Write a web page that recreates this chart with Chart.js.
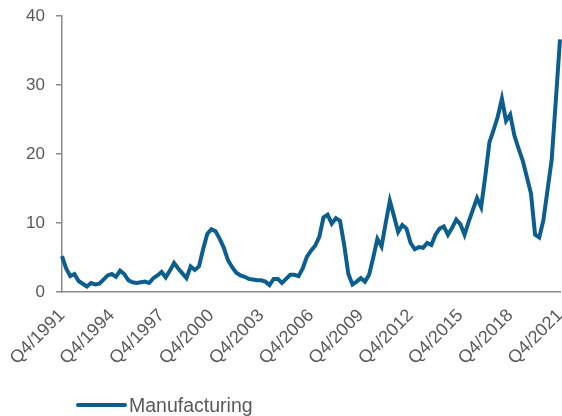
<!DOCTYPE html>
<html>
<head>
<meta charset="utf-8">
<script src="https://cdn.jsdelivr.net/npm/chart.js"></script>
<style>
  html, body { margin: 0; padding: 0; background: #fff; }
  #wrap { position: relative; width: 562px; height: 416px; }
  #legend { position: absolute; left: 76px; top: 393px; font-family: 'Liberation Sans', Arial, sans-serif;
            font-size: 19.5px; color: #595959; display: flex; align-items: center; height: 24px; }
  #legend .swatch { display: inline-block; width: 51px; height: 4px; border-radius: 2px; margin-right: 2px; }
</style>
</head>
<body>
<div id="wrap">
  <canvas id="myChart" width="562" height="416"></canvas>
  <div id="legend"></div>
</div>
<script>
'use strict';

// quarterly series, Q4/1991 .. Q4/2021
var firstYear = 1991;
var lastYear = 2021;
var seriesName = 'Manufacturing';
var manufacturing = [
  5.2, 3.4, 2.3, 2.6, 1.6, 1.2, 0.8, 1.3, 1.1, 1.2,
  1.8, 2.4, 2.6, 2.2, 3.1, 2.6, 1.7, 1.4, 1.3, 1.4,
  1.5, 1.3, 2.0, 2.4, 2.9, 2.1, 3.1, 4.2, 3.4, 2.7,
  2.0, 3.7, 3.2, 3.7, 6.2, 8.4, 9.1, 8.8, 7.7, 6.4,
  4.6, 3.6, 2.8, 2.4, 2.2, 1.9, 1.8, 1.7, 1.7, 1.5,
  1.0, 1.9, 1.9, 1.3, 1.9, 2.5, 2.5, 2.3, 3.4, 5.1,
  6.0, 6.7, 8.0, 10.8, 11.2, 9.9, 10.7, 10.3, 6.8, 2.6,
  1.1, 1.5, 2.0, 1.5, 2.5, 5.0, 7.7, 6.6, 10.0, 13.2,
  11.0, 8.7, 9.7, 9.2, 7.1, 6.2, 6.5, 6.4, 7.1, 6.8,
  8.3, 9.2, 9.5, 8.3, 9.3, 10.5, 9.8, 8.3, 10.2, 11.9,
  13.6, 12.3, 16.8, 21.7, 23.5, 25.4, 28.0, 24.8, 25.7, 22.7,
  20.8, 19.1, 16.7, 14.3, 8.3, 7.9, 10.4, 14.8, 19.2, 27.8,
  36.6
];
var tickLabels = ['Q4/1991', 'Q4/1994', 'Q4/1997', 'Q4/2000', 'Q4/2003', 'Q4/2006',
  'Q4/2009', 'Q4/2012', 'Q4/2015', 'Q4/2018', 'Q4/2021'];
var yTicks = [0, 10, 20, 30, 40];

var lineColor = '#0b5e8e';
var textColor = '#595959';
var axisColor = '#8a8a8a';

// category labels Q4/1991, Q1/1992 ...
var categories = [];
for (var y = firstYear; y <= lastYear; y++) {
  for (var q = 1; q <= 4; q++) {
    if (y === firstYear && q < 4) continue;
    categories.push('Q' + q + '/' + y);
  }
}
categories = categories.slice(0, manufacturing.length);

// no extra room for labels at the ends of the axes, layout padding does it
function noPadding(scale) {
  scale.paddingLeft = 0;
  scale.paddingRight = 0;
  scale.paddingTop = 0;
  scale.paddingBottom = 0;
}

var ctx = document.getElementById('myChart');
var myChart = new Chart(ctx, {
  type: 'line',
  data: {
    labels: categories,
    datasets: [{
      label: seriesName,
      data: manufacturing,
      borderColor: lineColor,
      borderWidth: 4,
      pointRadius: 0,
      tension: 0,
      clip: false
    }]
  },
  options: {
    responsive: false,
    animation: false,
    layout: { padding: { top: 16, right: 2, left: 0, bottom: 34 } },
    plugins: { legend: { display: false }, tooltip: { enabled: false } },
    scales: {
      x: {
        offset: false,
        border: { color: axisColor, width: 1.5 },
        grid: { drawOnChartArea: false, drawTicks: false },
        ticks: {
          autoSkip: false,
          maxRotation: 45,
          minRotation: 45,
          padding: 13,
          color: textColor,
          font: { family: "'Liberation Sans', Arial, sans-serif", size: 18 },
          callback: function (val, idx) {
            var lab = this.getLabelForValue(val);
            return tickLabels.indexOf(lab) >= 0 ? lab : null;
          }
        },
        afterFit: function (scale) { scale.height = 90; noPadding(scale); }
      },
      y: {
        min: 0,
        max: 40,
        border: { color: axisColor, width: 1.5 },
        grid: { drawOnChartArea: false, drawTicks: true, tickLength: 6, color: axisColor, lineWidth: 1.5 },
        afterBuildTicks: function (scale) {
          scale.ticks = yTicks.map(function (v) { return { value: v }; });
        },
        ticks: {
          padding: 11,
          color: textColor,
          font: { family: "'Liberation Sans', Arial, sans-serif", size: 17 }
        },
        afterFit: function (scale) { scale.width = 62; noPadding(scale); }
      }
    }
  }
});

// legend as html below the chart
var legend = document.getElementById('legend');
var sw = document.createElement('span');
sw.className = 'swatch';
sw.style.background = lineColor;
legend.appendChild(sw);
legend.appendChild(document.createTextNode(seriesName));
</script>
</body>
</html>
